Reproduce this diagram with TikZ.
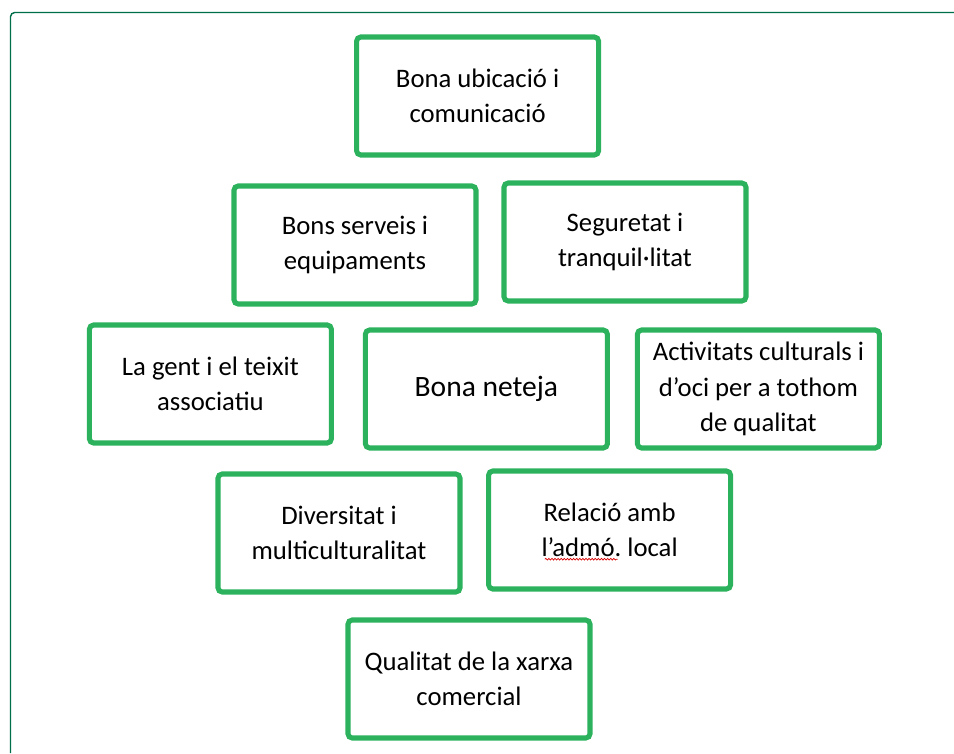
\documentclass[tikz,border=0pt]{standalone}
\usepackage{fontspec}
\setmainfont{Carlito}
\usetikzlibrary{decorations.pathmorphing}

\definecolor{boxgreen}{RGB}{44,178,92}
\definecolor{framegreen}{RGB}{0,110,72}

\tikzset{
    factor/.style={draw=boxgreen, line width=3.6pt, rounded corners=3pt, fill=white,
        minimum width=6.05cm, minimum height=2.95cm, align=center,
        font=\fontsize{19}{25}\selectfont},
    spellmark/.style={draw=red!85!black, line width=0.5pt,
        decorate, decoration={snake, amplitude=0.6pt, segment length=2.2pt}}
}

\begin{document}
\frenchspacing
\begin{tikzpicture}[scale=1]
    \useasboundingbox (0,0) rectangle (23.85,-18.825);

    % Draw the outer frame
    \draw[framegreen, line width=1pt, rounded corners=3pt] (0.2625,-18.825) -- (0.2625,-0.3125) -- (23.85,-0.3125);

    % Draw the factor boxes, row by row
    \node[factor] (ubicacio) at (11.94,-2.40) {Bona ubicació i\\comunicació};

    \node[factor] (serveis) at (8.875,-6.125) {Bons serveis i\\equipaments};
    \node[factor] (seguretat) at (15.625,-6.05) {Seguretat i\\tranquil·litat};

    \node[factor] (gent) at (5.26,-9.6) {La gent i el teixit\\associatiu};
    \node[factor, font=\fontsize{21}{26}\selectfont] (neteja) at (12.16,-9.725) {Bona neteja};
    \node[factor] (activitats) at (18.96,-9.725) {Activitats culturals i\\d’oci per a tothom\\de qualitat};

    \node[factor] (diversitat) at (8.475,-13.325) {Diversitat i\\multiculturalitat};
    \node[factor] (relacio) at (15.24,-13.25) {Relació amb\\l’admó. local};

    \node[factor] (qualitat) at (11.725,-16.975) {Qualitat de la xarxa\\comercial};

    % Spell-check underline below the abbreviation
    \draw[spellmark] ([xshift=-1.62cm, yshift=-0.73cm]relacio.center) -- ([xshift=0.2cm, yshift=-0.73cm]relacio.center);

\end{tikzpicture}
\end{document}
